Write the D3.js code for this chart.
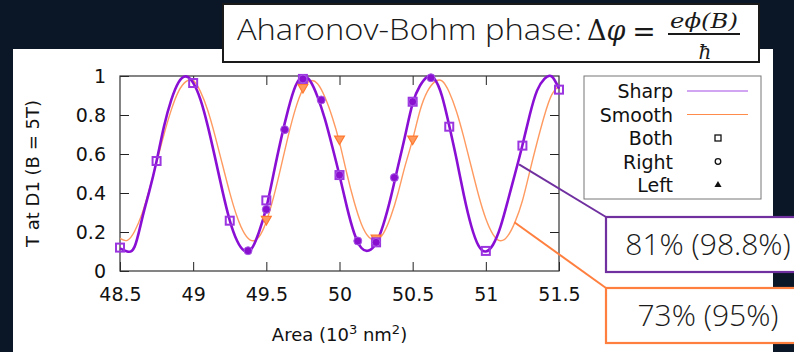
<!DOCTYPE html>
<html>
<head>
<meta charset="utf-8">
<script src="https://cdn.jsdelivr.net/npm/d3@7"></script>
<style>
  body { margin: 0; background: #0b1727; }
  svg { display: block; }
</style>
</head>
<body>
<div id="visualization"></div>
<script>
// Area grid (10^3 nm^2) used for both simulated curves
const areaGrid = [
  48.50, 48.55, 48.60, 48.65, 48.70, 48.75, 48.80, 48.85, 48.90, 48.95,
  49.00, 49.05, 49.10, 49.15, 49.20, 49.25, 49.30, 49.35, 49.40, 49.45,
  49.50, 49.55, 49.60, 49.65, 49.70, 49.75, 49.80, 49.85, 49.90, 49.95,
  50.00, 50.05, 50.10, 50.15, 50.20, 50.25, 50.30, 50.35, 50.40, 50.45,
  50.50, 50.55, 50.60, 50.65, 50.70, 50.75, 50.80, 50.85, 50.90, 50.95,
  51.00, 51.05, 51.10, 51.15, 51.20, 51.25, 51.30, 51.35, 51.40, 51.45,
  51.50
];

// Transmission for the sharp potential
const sharpT = [
  0.116, 0.100, 0.125, 0.265, 0.408, 0.564, 0.739, 0.876, 0.967, 0.998,
  0.965, 0.879, 0.743, 0.580, 0.411, 0.260, 0.155, 0.103, 0.115, 0.200,
  0.325, 0.500, 0.675, 0.830, 0.950, 0.996, 0.974, 0.893, 0.780, 0.640,
  0.490, 0.330, 0.195, 0.118, 0.105, 0.143, 0.239, 0.376, 0.537, 0.699,
  0.860, 0.950, 0.996, 0.984, 0.898, 0.745, 0.573, 0.388, 0.232, 0.130,
  0.100, 0.136, 0.226, 0.359, 0.500, 0.645, 0.800, 0.925, 0.985, 0.998,
  0.935
];

// Transmission for the smooth potential
const smoothT = [
  0.167, 0.157, 0.204, 0.293, 0.416, 0.557, 0.699, 0.825, 0.921, 0.971,
  0.976, 0.920, 0.823, 0.692, 0.546, 0.402, 0.278, 0.193, 0.156, 0.175,
  0.254, 0.380, 0.534, 0.694, 0.834, 0.933, 0.975, 0.960, 0.892, 0.790,
  0.660, 0.500, 0.355, 0.240, 0.174, 0.158, 0.193, 0.278, 0.400, 0.544,
  0.675, 0.822, 0.920, 0.970, 0.975, 0.917, 0.817, 0.684, 0.536, 0.390,
  0.268, 0.187, 0.155, 0.180, 0.252, 0.360, 0.510, 0.659, 0.796, 0.903,
  0.950
];

// Measured points: both leads (squares)
const bothArea = [48.5, 48.75, 49.0, 49.25, 49.5, 49.75, 50.0, 50.25, 50.5, 50.75, 51.0, 51.25, 51.5];
const bothT    = [0.120, 0.564, 0.964, 0.258, 0.362, 0.985, 0.492, 0.147, 0.868, 0.740, 0.103, 0.643, 0.930];

// Right lead only (circles)
const rightArea = [49.375, 49.5, 49.625, 49.75, 49.875, 50.0, 50.125, 50.25, 50.375, 50.5, 50.625];
const rightT    = [0.104, 0.316, 0.725, 0.985, 0.877, 0.492, 0.154, 0.147, 0.479, 0.868, 0.991];

// Left lead only (triangles)
const leftArea = [49.5, 49.75, 50.0, 50.25, 50.5];
const leftT    = [0.260, 0.937, 0.672, 0.164, 0.672];

// Axis ticks
const xTicks = [48.5, 49, 49.5, 50, 50.5, 51, 51.5];
const yTicks = [0, 0.2, 0.4, 0.6, 0.8, 1];

// Legend entries and callouts
const legendLabels = ["Sharp", "Smooth", "Both", "Right", "Left"];
const calloutLabels = ["81% (98.8%)", "73% (95%)"];
const calloutAnchors = [[51.227, 0.547], [51.195, 0.25]];

const width = 794;
const height = 352;

const purple = "#8a0fd4";
const orange = "#ff9a60";

const svg = d3.select("#visualization").append("svg")
    .attr("width", width)
    .attr("height", height);

// Dark slide background and white chart panel
svg.append("rect").attr("width", width).attr("height", height).attr("fill", "#0b1727");
svg.append("rect").attr("x", 13).attr("y", 49).attr("width", 760).attr("height", 310).attr("fill", "#fff");

// Scales
const x = d3.scaleLinear().domain([48.5, 51.5]).range([120, 559]);
const y = d3.scaleLinear().domain([0, 1]).range([271, 76]);

const chartFont = "'DejaVu Sans', sans-serif";
const tickLen = 9;

// Axes with inward ticks on all four sides
svg.append("g").attr("transform", `translate(0,${y(0)})`)
    .call(d3.axisBottom(x).tickValues(xTicks).tickSize(-tickLen).tickPadding(17).tickFormat(d3.format("")));
svg.append("g").attr("transform", `translate(${x(48.5)},0)`)
    .call(d3.axisLeft(y).tickValues(yTicks).tickSize(-tickLen).tickPadding(14).tickFormat(d3.format("")));
svg.append("g").attr("transform", `translate(0,${y(1)})`)
    .call(d3.axisTop(x).tickValues(xTicks.slice(1, -1)).tickSize(-tickLen).tickFormat(""));
svg.append("g").attr("transform", `translate(${x(51.5)},0)`)
    .call(d3.axisRight(y).tickValues(yTicks.slice(1, -1)).tickSize(-tickLen).tickFormat(""));

svg.selectAll(".domain").remove();
svg.selectAll(".tick line").attr("stroke", "#222");
svg.selectAll(".tick text").attr("font-family", chartFont).attr("font-size", 19).attr("fill", "#111");

// Plot frame
svg.append("rect")
    .attr("x", x(48.5)).attr("y", y(1))
    .attr("width", x(51.5) - x(48.5)).attr("height", y(0) - y(1))
    .attr("fill", "none").attr("stroke", "#333").attr("stroke-width", 1.2);

// Axis titles
svg.append("text")
    .attr("transform", `translate(39,${(y(0) + y(1)) / 2}) rotate(-90)`)
    .attr("text-anchor", "middle")
    .attr("font-family", chartFont).attr("font-size", 18).attr("fill", "#111")
    .text("T at D1 (B = 5T)");

const xTitle = svg.append("text")
    .attr("x", (x(48.5) + x(51.5)) / 2).attr("y", 341)
    .attr("text-anchor", "middle")
    .attr("font-family", chartFont).attr("font-size", 18).attr("fill", "#111");
xTitle.append("tspan").text("Area (10");
xTitle.append("tspan").attr("dy", -7).attr("font-size", 13).text("3");
xTitle.append("tspan").attr("dy", 7).text(" nm");
xTitle.append("tspan").attr("dy", -7).attr("font-size", 13).text("2");
xTitle.append("tspan").attr("dy", 7).text(")");

// Curves
const line = d3.line()
    .x(d => x(d[0]))
    .y(d => y(d[1]))
    .curve(d3.curveNatural);

const plot = svg.append("g");

plot.append("path")
    .datum(areaGrid.map((a, i) => [a, smoothT[i]]))
    .attr("d", line)
    .attr("fill", "none").attr("stroke", orange).attr("stroke-width", 1.4);

plot.append("path")
    .datum(areaGrid.map((a, i) => [a, sharpT[i]]))
    .attr("d", line)
    .attr("fill", "none").attr("stroke", purple).attr("stroke-width", 2.6);

// Triangles (left lead), pointing down
const tri = d3.symbol().type(d3.symbolTriangle).size(42);
plot.selectAll(".left")
    .data(leftArea.map((a, i) => [a, leftT[i]]))
    .enter().append("path")
    .attr("d", tri)
    .attr("transform", d => `translate(${x(d[0])},${y(d[1]) - 1}) rotate(180)`)
    .attr("fill", "#ff9a5e").attr("stroke", "#ff7a30").attr("stroke-width", 1.2);

// Squares (both leads)
plot.selectAll(".both")
    .data(bothArea.map((a, i) => [a, bothT[i]]))
    .enter().append("rect")
    .attr("x", d => x(d[0]) - 4).attr("y", d => y(d[1]) - 4)
    .attr("width", 8).attr("height", 8)
    .attr("fill", "none").attr("stroke", "#9b35e0").attr("stroke-width", 2);

// Circles (right lead)
plot.selectAll(".right")
    .data(rightArea.map((a, i) => [a, rightT[i]]))
    .enter().append("circle")
    .attr("cx", d => x(d[0])).attr("cy", d => y(d[1]))
    .attr("r", 4)
    .attr("fill", "#8a10d0").attr("stroke", "#a85ae6").attr("stroke-width", 1);

// Legend
const legend = svg.append("g");
legend.append("rect")
    .attr("x", 584).attr("y", 76).attr("width", 177).attr("height", 123)
    .attr("fill", "#fff").attr("stroke", "#777").attr("stroke-width", 1);

const rowY = i => 91 + i * 23.5;
legend.selectAll("text")
    .data(legendLabels)
    .enter().append("text")
    .attr("x", 673).attr("y", (d, i) => rowY(i) + 7)
    .attr("text-anchor", "end")
    .attr("font-family", chartFont).attr("font-size", 19).attr("fill", "#111")
    .text(d => d);

legend.append("line").attr("x1", 687).attr("x2", 748).attr("y1", rowY(0)).attr("y2", rowY(0))
    .attr("stroke", "#a64ce6").attr("stroke-width", 1.2);
legend.append("line").attr("x1", 687).attr("x2", 748).attr("y1", rowY(1)).attr("y2", rowY(1))
    .attr("stroke", "#ff8c4a").attr("stroke-width", 1.2);
legend.append("rect").attr("x", 715).attr("y", rowY(2) - 3).attr("width", 6).attr("height", 6)
    .attr("fill", "none").attr("stroke", "#111").attr("stroke-width", 1.3);
legend.append("circle").attr("cx", 718).attr("cy", rowY(3)).attr("r", 2.8)
    .attr("fill", "none").attr("stroke", "#111").attr("stroke-width", 1.3);
legend.append("path").attr("d", d3.symbol().type(d3.symbolTriangle).size(22))
    .attr("transform", `translate(718,${rowY(4)})`)
    .attr("fill", "#111");

// Callouts pointing at the curves
const calloutColors = ["#7030a0", "#ff7f3f"];
const calloutBoxY = [217, 288];
const lightFont = "'Open Sans', Lato, sans-serif";

calloutLabels.forEach((label, i) => {
    const [ax, ay] = calloutAnchors[i];
    svg.append("line")
        .attr("x1", x(ax)).attr("y1", y(ay))
        .attr("x2", 606).attr("y2", calloutBoxY[i])
        .attr("stroke", calloutColors[i]).attr("stroke-width", 2);
    svg.append("rect")
        .attr("x", 606).attr("y", calloutBoxY[i]).attr("width", 200).attr("height", 55)
        .attr("fill", "#fff").attr("stroke", calloutColors[i]).attr("stroke-width", 2.2);
    svg.append("text")
        .attr("x", 708).attr("y", calloutBoxY[i] + 38)
        .attr("text-anchor", "middle")
        .attr("font-family", lightFont).attr("font-weight", 300).attr("font-size", 30)
        .attr("fill", "#1a1a1a")
        .text(label);
});

// Title box with the Aharonov-Bohm phase formula
const title = svg.append("g");
title.append("rect")
    .attr("x", 223).attr("y", 4).attr("width", 536).attr("height", 58)
    .attr("fill", "#fff").attr("stroke", "#1a1a1a").attr("stroke-width", 2);
title.append("text")
    .attr("x", 237).attr("y", 40)
    .attr("font-family", lightFont).attr("font-weight", 300).attr("font-size", 29)
    .attr("textLength", 345).attr("lengthAdjust", "spacingAndGlyphs")
    .attr("fill", "#1a1a1a")
    .text("Aharonov-Bohm phase:");

const mathFont = "'DejaVu Serif', 'Liberation Serif', serif";
const delta = title.append("text")
    .attr("x", 587).attr("y", 40)
    .attr("font-family", mathFont).attr("font-size", 27)
    .attr("fill", "#1a1a1a");
delta.append("tspan").text("Δ");
delta.append("tspan").attr("font-style", "italic").text("φ");
title.append("text")
    .attr("x", 644).attr("y", 41).attr("text-anchor", "middle")
    .attr("font-family", mathFont).attr("font-size", 28).attr("fill", "#1a1a1a")
    .text("=");
title.append("text")
    .attr("x", 704).attr("y", 28).attr("text-anchor", "middle")
    .attr("font-family", mathFont).attr("font-style", "italic").attr("font-size", 21)
    .attr("textLength", 68).attr("lengthAdjust", "spacingAndGlyphs")
    .attr("fill", "#1a1a1a")
    .text("eϕ(B)");
title.append("line")
    .attr("x1", 668).attr("x2", 740).attr("y1", 34).attr("y2", 34)
    .attr("stroke", "#1a1a1a").attr("stroke-width", 2);
title.append("text")
    .attr("x", 705).attr("y", 59).attr("text-anchor", "middle")
    .attr("font-family", mathFont).attr("font-style", "italic").attr("font-size", 20)
    .attr("fill", "#1a1a1a")
    .text("ħ");
</script>
</body>
</html>
